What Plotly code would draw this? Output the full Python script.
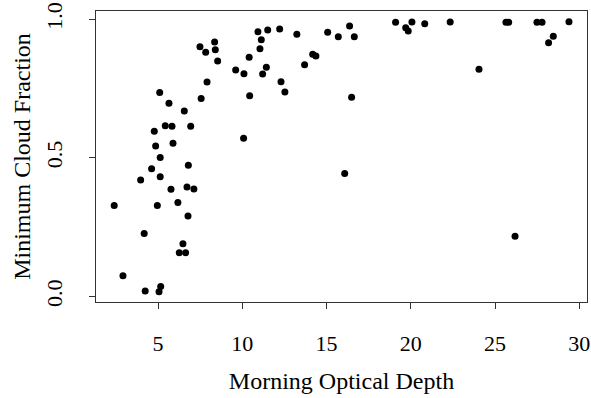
import plotly.graph_objects as go

# Morning optical depth vs. minimum cloud fraction
optical_depth = [
    7.91, 5.10, 10.44, 5.65, 7.56, 6.56, 5.43, 5.83, 6.94, 4.78,
    10.08, 4.86, 5.89, 5.13, 4.62, 6.80, 5.13, 3.97, 5.77, 6.72,
    7.13, 2.40, 4.96, 6.18, 6.78, 4.18, 6.48, 6.26, 6.64, 2.92,
    4.24, 5.16, 5.06, 7.49, 7.83, 8.36, 8.40, 8.54, 9.61, 10.10,
    10.41, 10.93, 11.51, 11.13, 11.05, 11.43, 11.21, 12.22, 12.30, 12.53,
    13.24, 13.70, 14.18, 14.37, 15.07, 15.70, 16.37, 16.65, 16.49, 16.08,
    19.10, 19.70, 19.85, 20.07, 20.83, 22.34, 25.65, 25.81, 24.05, 27.49,
    27.79, 28.46, 28.18, 29.39, 26.19,
]
cloud_fraction = [
    0.774, 0.736, 0.724, 0.697, 0.714, 0.669, 0.616, 0.614, 0.614, 0.596,
    0.571, 0.543, 0.553, 0.501, 0.461, 0.473, 0.432, 0.420, 0.387, 0.395,
    0.388, 0.328, 0.328, 0.339, 0.290, 0.227, 0.190, 0.158, 0.158, 0.075,
    0.020, 0.036, 0.017, 0.901, 0.881, 0.918, 0.890, 0.850, 0.817, 0.804,
    0.863, 0.955, 0.961, 0.926, 0.894, 0.827, 0.803, 0.965, 0.775, 0.738,
    0.946, 0.836, 0.874, 0.868, 0.953, 0.937, 0.976, 0.937, 0.719, 0.444,
    0.989, 0.970, 0.958, 0.990, 0.984, 0.990, 0.989, 0.989, 0.820, 0.989,
    0.989, 0.939, 0.915, 0.991, 0.217,
]

x_ticks = [5, 10, 15, 20, 25, 30]
y_ticks = [0.0, 0.5, 1.0]
y_tick_labels = ["0.0", "0.5", "1.0"]

FONT = "Liberation Serif, Times New Roman, serif"

fig = go.Figure(
    go.Scatter(
        x=optical_depth,
        y=cloud_fraction,
        mode="markers",
        marker=dict(color="black", size=7, line=dict(width=0)),
        showlegend=False,
    )
)

axis_common = dict(
    showgrid=False,
    zeroline=False,
    showline=True,
    linecolor="#333333",
    linewidth=1,
    mirror=True,
    ticks="outside",
    ticklen=6,
    tickwidth=1,
    tickcolor="#333333",
    tickfont=dict(family=FONT, size=22, color="black"),
)

fig.update_xaxes(
    range=[1.32, 30.46],
    tickvals=x_ticks,
    ticklabelstandoff=16,
    title=dict(text="Morning Optical Depth",
               font=dict(family=FONT, size=24, color="black"),
               standoff=16),
    **axis_common,
)
fig.update_yaxes(
    range=[-0.020, 1.030],
    tickvals=y_ticks,
    ticktext=y_tick_labels,
    tickangle=-90,
    ticklabelstandoff=18,
    title=dict(text="Minimum Cloud Fraction",
               font=dict(family=FONT, size=24, color="black"),
               standoff=4),
    **axis_common,
)

fig.update_layout(
    width=591,
    height=398,
    margin=dict(l=96, r=4, t=11, b=96, autoexpand=False),
    paper_bgcolor="white",
    plot_bgcolor="white",
)

fig.write_html("out.html")
